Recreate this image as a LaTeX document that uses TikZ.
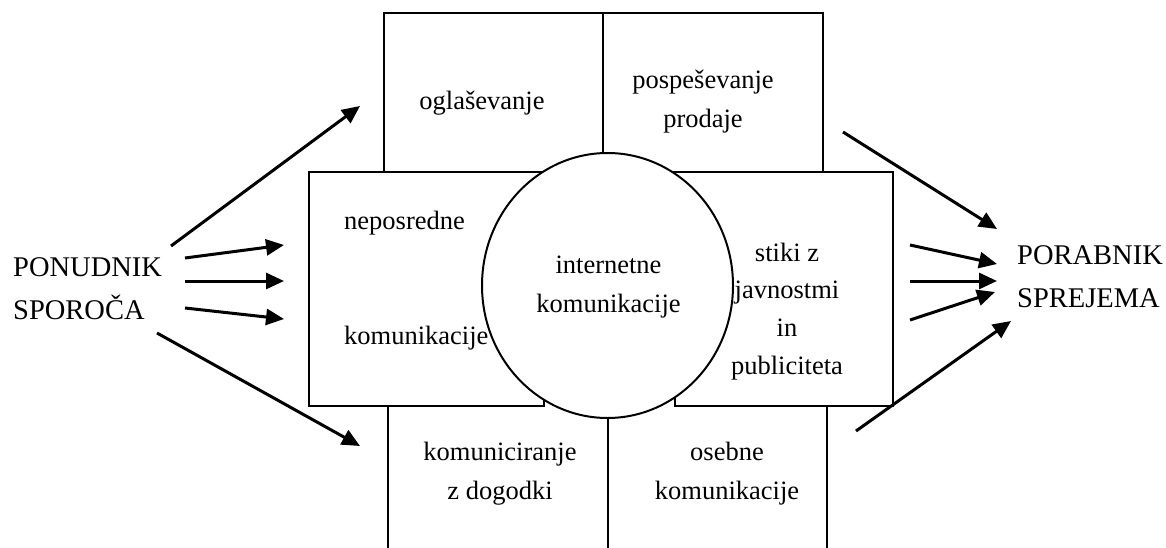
\documentclass[tikz,border=0pt]{standalone}
\usepackage{fontspec}
\setmainfont{Liberation Serif}
\usetikzlibrary{arrows.meta,shapes.geometric}
\newcommand{\lcfont}{\fontsize{26.5}{39}\selectfont}
\newcommand{\ucfont}{\fontsize{28.5}{43.5}\selectfont}
\newcommand{\mlc}[1]{\begin{tabular}[t]{@{}c@{}}#1\end{tabular}}
\newcommand{\mll}[1]{\begin{tabular}[t]{@{}l@{}}#1\end{tabular}}
\begin{document}
\begin{tikzpicture}[x=1pt,y=-1pt,
  box/.style={draw,line width=2pt},
  arr/.style={line width=3pt,-{Triangle[length=18pt,width=16pt]}},
  lbl/.style={inner sep=0pt,anchor=base,font=\lcfont}]
\useasboundingbox (0,0) rectangle (1166,548);
% boxes
\draw[box] (384,13) rectangle (823,172);
\draw[box] (603,13) -- (603,200);
\draw[box] (309,172) rectangle (544,406);
\draw[box] (675,172) rectangle (893,406);
\draw[box] (388,406) -- (388,548);
\draw[box] (827,406) -- (827,548);
\draw[box] (608,380) -- (608,548);
\node[ellipse,draw,line width=2pt,fill=white,minimum width=251pt,minimum height=265pt,inner sep=0pt] (circ) at (607.5,285.5) {};
% labels
\node[lbl] (ogl) at (482,110) {oglaševanje};
\node[lbl] (pos) at (703,89) {\mlc{pospeševanje\\prodaje}};
\node[lbl,anchor=base west] (nep) at (344,229) {\mll{neposredne\\[76pt]komunikacije}};
\node[lbl] (int) at (608.5,273) {\mlc{internetne\\komunikacije}};
\node[lbl,font=\fontsize{26.5}{37.7}\selectfont] (sti) at (787,261) {\mlc{stiki z\\javnostmi\\in\\publiciteta}};
\node[lbl] (kom) at (500,460) {\mlc{komuniciranje\\z dogodki}};
\node[lbl] (ose) at (727,460) {\mlc{osebne\\komunikacije}};
\node[lbl,anchor=base west,font=\ucfont] (pon) at (13,276) {\mll{PONUDNIK\\SPOROČA}};
\node[lbl,anchor=base west,font=\ucfont] (por) at (1017,264) {\mll{PORABNIK\\SPREJEMA}};
% arrow end points
\coordinate (a1s) at (171,246); \coordinate (a1e) at (360,106);
\coordinate (a2s) at (185,258); \coordinate (a2e) at (284,245);
\coordinate (a3s) at (185,281); \coordinate (a3e) at (284,281);
\coordinate (a4s) at (185,308); \coordinate (a4e) at (284,319);
\coordinate (a5s) at (157,333); \coordinate (a5e) at (360,446);
\coordinate (b1s) at (843,132); \coordinate (b1e) at (997,229);
\coordinate (b2s) at (910,245); \coordinate (b2e) at (997,264);
\coordinate (b3s) at (910,281); \coordinate (b3e) at (997,281);
\coordinate (b4s) at (910,320); \coordinate (b4e) at (995,292);
\coordinate (b5s) at (856,431); \coordinate (b5e) at (1011,321);
\foreach \p in {a1,a2,a3,a4,a5,b1,b2,b3,b4,b5}
  \draw[arr] (\p s) -- (\p e);
\end{tikzpicture}
\end{document}
